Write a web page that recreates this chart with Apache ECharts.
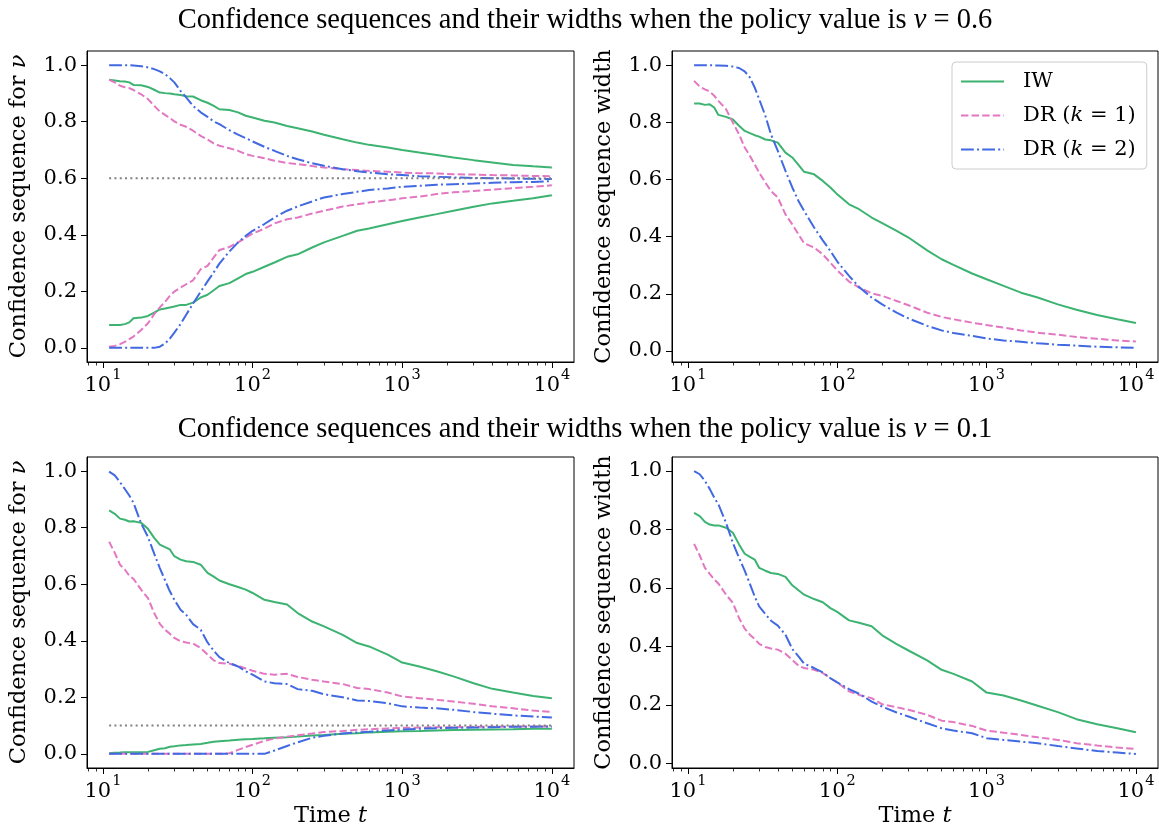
<!DOCTYPE html>
<html><head><meta charset="utf-8">
<script src="https://cdn.jsdelivr.net/npm/echarts@6/dist/echarts.min.js"></script>
<style>html,body{margin:0;padding:0;background:#fff}#c{width:1159px;height:829px}</style>
</head><body><div id="c"></div>
<script>
// ---- data ----
const T = [11,12,13,14,15,16,18,20,22,24,26,28,30,33,36,40,45,50,55,60,70,80,90,100,120,140,170,200,250,300,400,500,600,800,1000,1300,1700,2200,3000,4000,5500,7500,10000];

// nu = 0.6 : confidence sequences
const iwUpper06 = [0.948,0.946,0.943,0.942,0.939,0.930,0.929,0.923,0.913,0.903,0.901,0.900,0.897,0.894,0.890,0.889,0.876,0.867,0.856,0.844,0.841,0.833,0.821,0.815,0.803,0.797,0.785,0.777,0.765,0.754,0.738,0.726,0.718,0.709,0.700,0.691,0.682,0.673,0.664,0.656,0.647,0.642,0.638];
const iwLower06 = [0.081,0.081,0.081,0.084,0.090,0.105,0.107,0.113,0.125,0.136,0.139,0.143,0.146,0.152,0.152,0.160,0.178,0.188,0.204,0.219,0.229,0.246,0.261,0.269,0.287,0.302,0.322,0.331,0.355,0.373,0.396,0.414,0.422,0.437,0.449,0.461,0.473,0.485,0.499,0.511,0.520,0.529,0.540];
const dr1Upper06 = [0.948,0.939,0.927,0.922,0.919,0.912,0.897,0.880,0.856,0.836,0.824,0.813,0.801,0.789,0.782,0.768,0.750,0.737,0.723,0.715,0.706,0.697,0.685,0.679,0.671,0.662,0.654,0.650,0.643,0.638,0.632,0.629,0.626,0.623,0.620,0.618,0.617,0.614,0.613,0.611,0.610,0.608,0.607];
const dr1Lower06 = [0.004,0.007,0.013,0.021,0.031,0.040,0.063,0.087,0.119,0.143,0.163,0.184,0.199,0.213,0.225,0.239,0.278,0.290,0.320,0.346,0.357,0.373,0.390,0.404,0.422,0.440,0.455,0.461,0.475,0.485,0.500,0.508,0.514,0.522,0.529,0.535,0.544,0.550,0.555,0.560,0.565,0.570,0.575];
const dr2Upper06 = [1.0,1.0,1.0,1.0,1.0,0.999,0.996,0.992,0.986,0.978,0.968,0.954,0.939,0.909,0.886,0.856,0.833,0.817,0.801,0.791,0.770,0.754,0.742,0.730,0.711,0.697,0.679,0.667,0.653,0.644,0.632,0.625,0.620,0.614,0.611,0.607,0.605,0.603,0.601,0.600,0.599,0.598,0.597];
const dr2Lower06 = [0,0,0,0,0,0,0,0,0,0.004,0.015,0.033,0.054,0.084,0.117,0.157,0.199,0.235,0.267,0.298,0.341,0.373,0.396,0.414,0.438,0.461,0.485,0.500,0.518,0.532,0.544,0.552,0.558,0.564,0.570,0.573,0.577,0.579,0.581,0.584,0.586,0.587,0.590];
// nu = 0.6 : widths
const iwWidth06 = [0.866,0.866,0.861,0.863,0.852,0.826,0.819,0.810,0.788,0.770,0.762,0.755,0.750,0.740,0.737,0.729,0.694,0.677,0.651,0.627,0.618,0.595,0.572,0.548,0.513,0.496,0.467,0.447,0.420,0.397,0.352,0.321,0.301,0.271,0.251,0.228,0.204,0.187,0.163,0.144,0.126,0.111,0.098];
const dr1Width06 = [0.945,0.925,0.915,0.908,0.893,0.875,0.846,0.799,0.758,0.712,0.683,0.653,0.624,0.589,0.560,0.537,0.478,0.443,0.408,0.377,0.362,0.338,0.309,0.282,0.243,0.222,0.202,0.193,0.175,0.160,0.134,0.119,0.111,0.099,0.091,0.082,0.072,0.064,0.057,0.049,0.043,0.037,0.033];
const dr2Width06 = [1.0,1.0,1.0,1.0,0.999,0.999,0.998,0.995,0.990,0.978,0.957,0.922,0.881,0.823,0.758,0.700,0.630,0.572,0.525,0.490,0.432,0.387,0.350,0.313,0.263,0.224,0.187,0.163,0.134,0.114,0.088,0.072,0.063,0.053,0.044,0.037,0.032,0.027,0.022,0.019,0.015,0.013,0.011];

// nu = 0.1 : confidence sequences
const iwUpper01 = [0.861,0.849,0.832,0.828,0.822,0.823,0.817,0.796,0.764,0.740,0.731,0.723,0.699,0.687,0.681,0.679,0.669,0.640,0.627,0.613,0.600,0.590,0.581,0.569,0.545,0.537,0.528,0.498,0.468,0.451,0.421,0.392,0.380,0.351,0.323,0.309,0.292,0.274,0.250,0.230,0.217,0.205,0.197];
const iwLower01 = [0.002,0.004,0.005,0.006,0.006,0.006,0.006,0.007,0.013,0.018,0.020,0.025,0.027,0.030,0.031,0.033,0.035,0.039,0.043,0.045,0.047,0.050,0.052,0.053,0.055,0.057,0.059,0.061,0.065,0.067,0.071,0.073,0.076,0.078,0.080,0.081,0.083,0.084,0.085,0.086,0.087,0.089,0.089];
const dr1Upper01 = [0.750,0.711,0.669,0.652,0.630,0.619,0.581,0.551,0.498,0.460,0.439,0.425,0.410,0.398,0.394,0.390,0.374,0.351,0.331,0.321,0.319,0.312,0.302,0.294,0.283,0.280,0.283,0.272,0.262,0.256,0.247,0.233,0.229,0.217,0.203,0.197,0.191,0.185,0.177,0.168,0.161,0.153,0.148];
const dr1Lower01 = [0,0,0,0,0,0,0,0,0,0,0,0,0,0,0,0,0,0,0,0,0.002,0.014,0.024,0.032,0.046,0.054,0.061,0.066,0.072,0.077,0.081,0.085,0.087,0.090,0.092,0.093,0.094,0.094,0.096,0.096,0.097,0.097,0.097];
const dr2Upper01 = [0.998,0.985,0.961,0.937,0.914,0.888,0.815,0.767,0.708,0.657,0.614,0.575,0.545,0.510,0.492,0.459,0.439,0.394,0.365,0.342,0.321,0.309,0.292,0.280,0.256,0.250,0.247,0.229,0.223,0.211,0.200,0.189,0.187,0.179,0.168,0.164,0.161,0.156,0.148,0.142,0.136,0.132,0.129];
const dr2Lower01 = [0,0,0,0,0,0,0,0,0,0,0,0,0,0,0,0,0,0,0,0,0,0,0,0,0,0.012,0.028,0.041,0.057,0.064,0.072,0.076,0.078,0.083,0.086,0.089,0.091,0.092,0.093,0.094,0.096,0.096,0.097];
// nu = 0.1 : widths
const iwWidth01 = [0.857,0.846,0.826,0.817,0.814,0.814,0.806,0.789,0.749,0.717,0.706,0.697,0.669,0.659,0.651,0.648,0.638,0.609,0.592,0.577,0.562,0.551,0.531,0.518,0.489,0.481,0.469,0.438,0.408,0.386,0.352,0.320,0.306,0.280,0.242,0.232,0.215,0.197,0.175,0.151,0.134,0.120,0.106];
const dr1Width01 = [0.751,0.711,0.669,0.648,0.629,0.615,0.577,0.549,0.497,0.461,0.440,0.425,0.409,0.398,0.393,0.389,0.375,0.354,0.334,0.326,0.320,0.309,0.291,0.277,0.246,0.234,0.223,0.202,0.192,0.183,0.166,0.146,0.141,0.128,0.112,0.105,0.097,0.089,0.080,0.069,0.061,0.054,0.049];
const dr2Width01 = [1.0,0.989,0.966,0.939,0.909,0.886,0.823,0.754,0.703,0.659,0.614,0.571,0.537,0.511,0.488,0.471,0.440,0.391,0.366,0.341,0.326,0.311,0.291,0.277,0.254,0.238,0.211,0.194,0.174,0.160,0.137,0.120,0.112,0.103,0.086,0.080,0.074,0.069,0.059,0.051,0.042,0.037,0.032];

const trueValues = [0.6, 0.1];
const trueRange = [11, 10000];
const xMajorTicks = [10, 100, 1000, 10000];
const xMinorTicks = [8,9,20,30,40,50,60,70,80,90,200,300,400,500,600,700,800,900,2000,3000,4000,5000,6000,7000,8000,9000];
const yTicks = [0, 0.2, 0.4, 0.6, 0.8, 1.0];
const titles = ['Confidence sequences and their widths when the policy value is ', ' = '];
const seriesNames = ['IW', 'DR (k = 1)', 'DR (k = 2)'];

// ---- styling / layout ----
const SERIF = 'DejaVu Serif';
const FS = 21, NFS = 22.5;
const COLORS = ['#3cb371', '#e377c2', '#4169e1'];
const DASH = ['solid', [7.4, 3.2], [12.8, 3.2, 2, 3.2]];
const XMIN = Math.pow(10, 0.8935), XMAX = Math.pow(10, 4.1479);
const grids = [
  {left: 87, top: 51, width: 487, height: 311},
  {left: 672, top: 51, width: 486, height: 311},
  {left: 87, top: 457, width: 487, height: 311},
  {left: 672, top: 457, width: 486, height: 311}
];
const yRanges = [[-0.05, 1.05], [-0.0385, 1.0495], [-0.05, 1.05], [-0.016, 1.048]];
const yNames = ['Confidence sequence for {i|ν}', 'Confidence sequence width', 'Confidence sequence for {i|ν}', 'Confidence sequence width'];
const italicN = {fontFamily: SERIF, fontSize: NFS, fontStyle: 'italic', color: '#000'};
const italic = {fontFamily: SERIF, fontSize: FS, fontStyle: 'italic', color: '#000'};

const xAxes = [], yAxes = [];
grids.forEach((g, gi) => {
  const bottomRow = gi >= 2;
  xAxes.push({
    type: 'log', logBase: 10, gridIndex: gi, min: XMIN, max: XMAX, position: 'bottom',
    axisLine: {show: true, onZero: false, lineStyle: {color: '#000', width: 1}},
    axisTick: {show: true, customValues: xMajorTicks, length: 6, lineStyle: {color: '#000', width: 1}},
    axisLabel: {
      show: true, customValues: xMajorTicks, margin: 6, color: '#000',
      formatter: v => '{b|10}{s|' + Math.round(Math.log10(v)) + '}',
      rich: {
        b: {fontFamily: SERIF, fontSize: FS, color: '#000', lineHeight: 28, verticalAlign: 'bottom'},
        s: {fontFamily: SERIF, fontSize: 14.5, color: '#000', verticalAlign: 'top', padding: [0, 0, 0, 1]}
      }
    },
    splitLine: {show: false},
    name: bottomRow ? 'Time {i|t}' : '',
    nameLocation: 'middle', nameGap: 37,
    nameTextStyle: {fontFamily: SERIF, fontSize: NFS, color: '#000', rich: {i: italicN}}
  });
  xAxes.push({
    type: 'log', logBase: 10, gridIndex: gi, min: XMIN, max: XMAX, position: 'bottom', offset: 0,
    axisLine: {show: false, onZero: false},
    axisTick: {show: true, inside: false, customValues: xMinorTicks, length: 3.5, lineStyle: {color: '#000', width: 0.8}},
    axisLabel: {show: false}, splitLine: {show: false}
  });
  yAxes.push({
    type: 'value', gridIndex: gi, min: yRanges[gi][0], max: yRanges[gi][1], position: 'left',
    axisLine: {show: true, onZero: false, lineStyle: {color: '#000', width: 1}},
    axisTick: {show: true, customValues: yTicks, length: 6, lineStyle: {color: '#000', width: 1}},
    axisLabel: {show: true, customValues: yTicks, margin: 10, color: '#000', fontFamily: SERIF, fontSize: FS,
      formatter: v => Number(v).toFixed(1)},
    splitLine: {show: false},
    name: yNames[gi], nameLocation: 'middle', nameRotate: 90, nameGap: 56,
    nameTextStyle: {fontFamily: SERIF, fontSize: NFS, color: '#000', rich: {i: italicN}}
  });
});

function line(name, gi, ys, k) {
  return {
    type: 'line', name: name, xAxisIndex: 2 * gi, yAxisIndex: gi,
    data: T.map((t, i) => [t, ys[i]]),
    symbol: 'none', showSymbol: false, silent: true, animation: false,
    lineStyle: {color: COLORS[k], width: 2, type: DASH[k]},
    itemStyle: {color: COLORS[k]}, z: 2 + k
  };
}
function ref(gi, v) {
  return {
    type: 'line', name: 'nu', xAxisIndex: 2 * gi, yAxisIndex: gi,
    data: trueRange.map(t => [t, v]),
    symbol: 'none', showSymbol: false, silent: true, animation: false,
    lineStyle: {color: '#808080', width: 2, type: [2, 3.3]}, z: 6
  };
}

const series = [
  line(seriesNames[0], 0, iwUpper06, 0), line(seriesNames[0], 0, iwLower06, 0),
  line(seriesNames[1], 0, dr1Upper06, 1), line(seriesNames[1], 0, dr1Lower06, 1),
  line(seriesNames[2], 0, dr2Upper06, 2), line(seriesNames[2], 0, dr2Lower06, 2),
  ref(0, trueValues[0]),
  line(seriesNames[0], 1, iwWidth06, 0), line(seriesNames[1], 1, dr1Width06, 1), line(seriesNames[2], 1, dr2Width06, 2),
  line(seriesNames[0], 2, iwUpper01, 0), line(seriesNames[0], 2, iwLower01, 0),
  line(seriesNames[1], 2, dr1Upper01, 1), line(seriesNames[1], 2, dr1Lower01, 1),
  line(seriesNames[2], 2, dr2Upper01, 2), line(seriesNames[2], 2, dr2Lower01, 2),
  ref(2, trueValues[1]),
  line(seriesNames[0], 3, iwWidth01, 0), line(seriesNames[1], 3, dr1Width01, 1), line(seriesNames[2], 3, dr2Width01, 2)
];

const TFS = 28.5;
const titleRich = {
  a: {fontFamily: 'Liberation Serif', fontSize: TFS, fontWeight: 'normal', color: '#000'},
  i: {fontFamily: 'Liberation Serif', fontSize: TFS, fontWeight: 'normal', fontStyle: 'italic', color: '#000'}
};
const option = {
  backgroundColor: '#fff',
  animation: false,
  title: [
    {text: '{a|' + titles[0] + '}{i|ν}{a|' + titles[1] + trueValues[0] + '}', left: 585, top: 6, textAlign: 'center', padding: 0,
      textStyle: {fontWeight: 'normal', fontFamily: 'Liberation Serif', fontSize: TFS, rich: titleRich}},
    {text: '{a|' + titles[0] + '}{i|ν}{a|' + titles[1] + trueValues[1] + '}', left: 585, top: 415, textAlign: 'center', padding: 0,
      textStyle: {fontWeight: 'normal', fontFamily: 'Liberation Serif', fontSize: TFS, rich: titleRich}}
  ],
  grid: grids.map(g => Object.assign({show: true, borderColor: '#000', borderWidth: 1, backgroundColor: 'transparent', containLabel: false}, g)),
  xAxis: xAxes,
  yAxis: yAxes,
  legend: {
    show: true, orient: 'vertical', left: 952, top: 62,
    data: seriesNames,
    itemWidth: 43, itemHeight: 14, itemGap: 13,
    padding: [9, 11, 9, 8],
    borderColor: '#cccccc', borderWidth: 1, borderRadius: 4,
    backgroundColor: 'rgba(255,255,255,0.8)',
    selectedMode: false,
    itemStyle: {opacity: 0, borderWidth: 0},
    formatter: n => n.replace('k', '{i|k}'),
    textStyle: {fontFamily: SERIF, fontSize: FS, color: '#000', padding: [0, 0, 0, 14], rich: {i: italic}}
  },
  series: series
};
const chart = echarts.init(document.getElementById('c'), null, {renderer: 'canvas'});
chart.setOption(option);
</script></body></html>
